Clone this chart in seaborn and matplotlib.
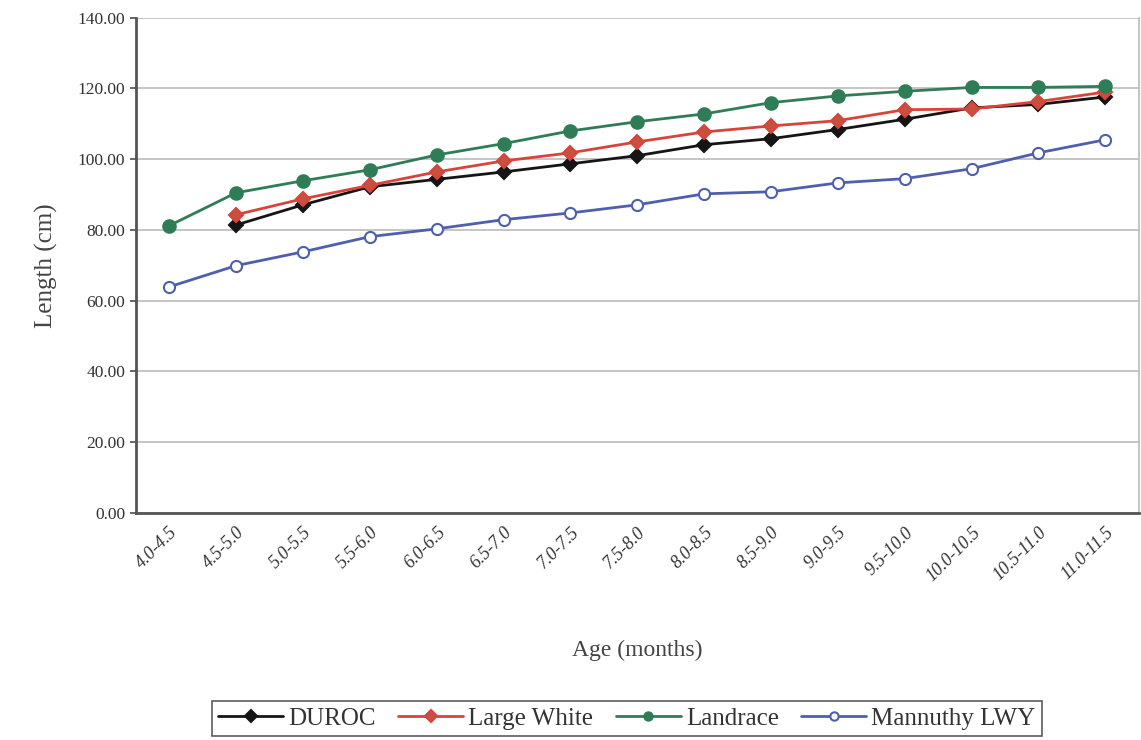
import numpy as np
import pandas as pd
import matplotlib
matplotlib.use("Agg")
import matplotlib.pyplot as plt
from matplotlib.lines import Line2D
import seaborn as sns

ages = ["4.0-4.5", "4.5-5.0", "5.0-5.5", "5.5-6.0", "6.0-6.5", "6.5-7.0", "7.0-7.5",
        "7.5-8.0", "8.0-8.5", "8.5-9.0", "9.0-9.5", "9.5-10.0", "10.0-10.5",
        "10.5-11.0", "11.0-11.5"]
duroc = [np.nan, 81.4, 87.1, 92.2, 94.3, 96.4, 98.7, 101.0, 104.1, 105.8, 108.4, 111.3,
         114.5, 115.5, 117.6]
large_white = [np.nan, 84.3, 88.8, 92.6, 96.4, 99.5, 101.8, 104.9, 107.7, 109.4, 110.9,
               114.0, 114.2, 116.3, 119.0]
landrace = [81.2, 90.5, 93.9, 97.0, 101.2, 104.4, 108.0, 110.6, 112.8, 116.0, 117.9,
            119.2, 120.3, 120.3, 120.6]
mannuthy = [63.9, 69.9, 73.8, 78.1, 80.3, 82.9, 84.8, 87.1, 90.2, 90.8, 93.3, 94.5,
            97.3, 101.8, 105.5]
series_names = ["DUROC", "Large White", "Landrace", "Mannuthy LWY"]
y_ticks = [0, 20, 40, 60, 80, 100, 120, 140]

sns.set_theme(style="white")
plt.rcParams["font.family"] = ["Liberation Serif", "DejaVu Serif"]

fig = plt.figure(figsize=(11.41, 7.40), dpi=100)
ax = fig.add_axes([0.119, 0.307, 0.879, 0.669])

pos = np.arange(len(ages))
styles = {
    "DUROC": dict(color="#151515", marker="D", markersize=7, mfc="#151515", mec="#151515"),
    "Large White": dict(color="#d9443a", marker="D", markersize=7, mfc="#c8503f", mec="#d9443a"),
    "Landrace": dict(color="#2f7d57", marker="o", markersize=9, mfc="#2f7d57", mec="#2f7d57"),
    "Mannuthy LWY": dict(color="#4f5fae", marker="o", markersize=8, mfc="white", mec="#4f5fae"),
}
data = {"DUROC": duroc, "Large White": large_white, "Landrace": landrace,
        "Mannuthy LWY": mannuthy}

legend_handles = []
for name in series_names:
    df = pd.DataFrame({"x": pos, "y": data[name]}).dropna()
    st = styles[name]
    sns.lineplot(data=df, x="x", y="y", ax=ax, color=st["color"], linewidth=2,
                 marker=st["marker"], markersize=st["markersize"],
                 markerfacecolor=st["mfc"], markeredgecolor=st["mec"],
                 markeredgewidth=1.5, legend=False, zorder=3)
    legend_handles.append(Line2D([], [], color=st["color"], linewidth=2, marker=st["marker"],
                                 markersize=6, markerfacecolor=st["mfc"],
                                 markeredgecolor=st["mec"], markeredgewidth=1.5))

ax.set_xlim(-0.5, len(ages) - 0.5)
ax.set_ylim(0, 140)
ax.set_yticks(y_ticks)
ax.set_yticklabels([f"{v:.2f}" for v in y_ticks], fontsize=12.5, color="#333333")
ax.set_xticks(pos)
ax.set_xticklabels(ages, rotation=45, ha="right", rotation_mode="anchor",
                   fontsize=13, color="#333333", style="italic")
ax.set_xticks(np.arange(-0.5, len(ages), 1.0), minor=True)
ax.tick_params(axis="x", which="major", length=0, pad=8)
ax.tick_params(axis="x", which="minor", length=5, color="#777777", direction="out")
ax.tick_params(axis="y", length=4, color="#555555", direction="out", left=True)
ax.yaxis.grid(True, color="#bbbbbb", linewidth=1.2)
ax.set_axisbelow(True)

for s in ["left", "bottom"]:
    ax.spines[s].set_color("#555555")
    ax.spines[s].set_linewidth(2)
ax.spines["top"].set_visible(False)
ax.spines["right"].set_color("#bbbbbb")
ax.spines["right"].set_linewidth(1.2)

ax.set_xlabel("Age (months)", fontsize=17, color="#444444", labelpad=40)
ax.set_ylabel("Length (cm)", fontsize=18, color="#444444", labelpad=14)

leg = fig.legend(legend_handles, series_names, loc="center", bbox_to_anchor=(0.5495, 0.029),
                 ncol=4, frameon=True, fontsize=18, handlelength=2.6, handletextpad=0.2,
                 columnspacing=0.9, borderpad=0.25, fancybox=False, edgecolor="#333333")
leg.get_frame().set_linewidth(1.2)
for t in leg.get_texts():
    t.set_color("#333333")

fig.savefig("out.png", dpi=100, facecolor="white")
